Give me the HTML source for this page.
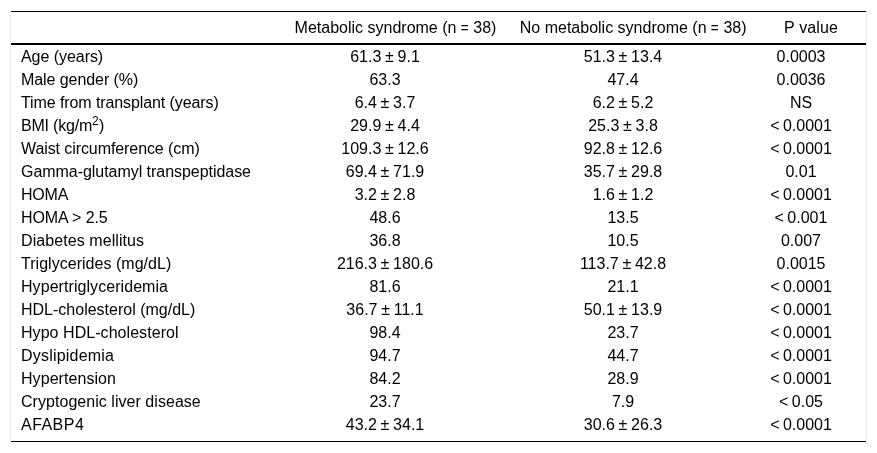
<!DOCTYPE html>
<html><head><meta charset="utf-8">
<style>
html,body{margin:0;padding:0;background:#fff;}
body{width:877px;height:453px;overflow:hidden;position:relative;font-family:"Liberation Sans",sans-serif;color:#000;}
.ln{position:absolute;background:#000;}
.vl{position:absolute;background:#ebebeb;width:1px;top:11px;height:430px;}
table{will-change:transform;position:absolute;left:11px;top:12px;width:855px;table-layout:fixed;border-collapse:separate;border-spacing:0;font-size:16px;}
thead th{font-weight:normal;height:33px;padding:0;line-height:31px;vertical-align:top;text-align:center;white-space:nowrap;}
td{height:23px;padding:0;line-height:23px;text-align:center;white-space:nowrap;}
td:first-child{text-align:left;padding-left:10px;}
td:nth-child(2),td:nth-child(3){word-spacing:-0.75px;}
td:nth-child(4){word-spacing:-1px;}
thead th span{position:relative;left:10.5px;}
thead th i{font-style:normal;display:inline-block;transform:scaleX(0.84);margin:0 -0.7px;}
sup{font-size:12px;line-height:0;vertical-align:6.5px;margin-right:0.5px;}
</style></head><body>
<div class="vl" style="left:10px"></div><div class="vl" style="left:866px"></div>
<div class="ln" style="left:11px;top:11px;width:855px;height:1px"></div>
<div class="ln" style="left:11px;top:43px;width:855px;height:2px"></div>
<div class="ln" style="left:11px;top:441px;width:855px;height:1px"></div>
<table>
<colgroup><col style="width:249px"><col style="width:250px"><col style="width:226px"><col style="width:130px"></colgroup>
<thead><tr><th></th><th><span>Metabolic syndrome (n <i>=</i> 38)</span></th><th><span style="left:9.8px">No metabolic syndrome (n <i>=</i> 38)</span></th><th><span style="left:10.1px;letter-spacing:0.13px">P value</span></th></tr></thead>
<tbody>
<tr><td style="letter-spacing:-0.05px">Age (years)</td><td>61.3 ± 9.1</td><td>51.3 ± 13.4</td><td>0.0003</td></tr>
<tr><td style="letter-spacing:-0.071px">Male gender (%)</td><td>63.3</td><td>47.4</td><td>0.0036</td></tr>
<tr><td style="letter-spacing:-0.096px">Time from transplant (years)</td><td>6.4 ± 3.7</td><td>6.2 ± 5.2</td><td>NS</td></tr>
<tr><td style="letter-spacing:-0.2px">BMI (kg/m<sup>2</sup>)</td><td>29.9 ± 4.4</td><td>25.3 ± 3.8</td><td>&lt; 0.0001</td></tr>
<tr><td style="letter-spacing:-0.087px">Waist circumference (cm)</td><td>109.3 ± 12.6</td><td>92.8 ± 12.6</td><td>&lt; 0.0001</td></tr>
<tr><td style="letter-spacing:-0.043px">Gamma-glutamyl transpeptidase</td><td>69.4 ± 71.9</td><td>35.7 ± 29.8</td><td>0.01</td></tr>
<tr><td style="letter-spacing:-0.2px">HOMA</td><td>3.2 ± 2.8</td><td>1.6 ± 1.2</td><td>&lt; 0.0001</td></tr>
<tr><td style="letter-spacing:-0.1px">HOMA &gt; 2.5</td><td>48.6</td><td>13.5</td><td>&lt; 0.001</td></tr>
<tr><td style="letter-spacing:0.075px">Diabetes mellitus</td><td>36.8</td><td>10.5</td><td>0.007</td></tr>
<tr><td style="letter-spacing:0.03px">Triglycerides (mg/dL)</td><td>216.3 ± 180.6</td><td>113.7 ± 42.8</td><td>0.0015</td></tr>
<tr><td style="letter-spacing:0.063px">Hypertriglyceridemia</td><td>81.6</td><td>21.1</td><td>&lt; 0.0001</td></tr>
<tr><td>HDL-cholesterol (mg/dL)</td><td>36.7 ± 11.1</td><td>50.1 ± 13.9</td><td>&lt; 0.0001</td></tr>
<tr><td style="letter-spacing:0.053px">Hypo HDL-cholesterol</td><td>98.4</td><td>23.7</td><td>&lt; 0.0001</td></tr>
<tr><td style="letter-spacing:0.209px">Dyslipidemia</td><td>94.7</td><td>44.7</td><td>&lt; 0.0001</td></tr>
<tr><td style="letter-spacing:0.064px">Hypertension</td><td>84.2</td><td>28.9</td><td>&lt; 0.0001</td></tr>
<tr><td style="letter-spacing:0.042px">Cryptogenic liver disease</td><td>23.7</td><td>7.9</td><td>&lt; 0.05</td></tr>
<tr><td style="letter-spacing:0.46px">AFABP4</td><td>43.2 ± 34.1</td><td>30.6 ± 26.3</td><td>&lt; 0.0001</td></tr>
</tbody></table>
</body></html>
